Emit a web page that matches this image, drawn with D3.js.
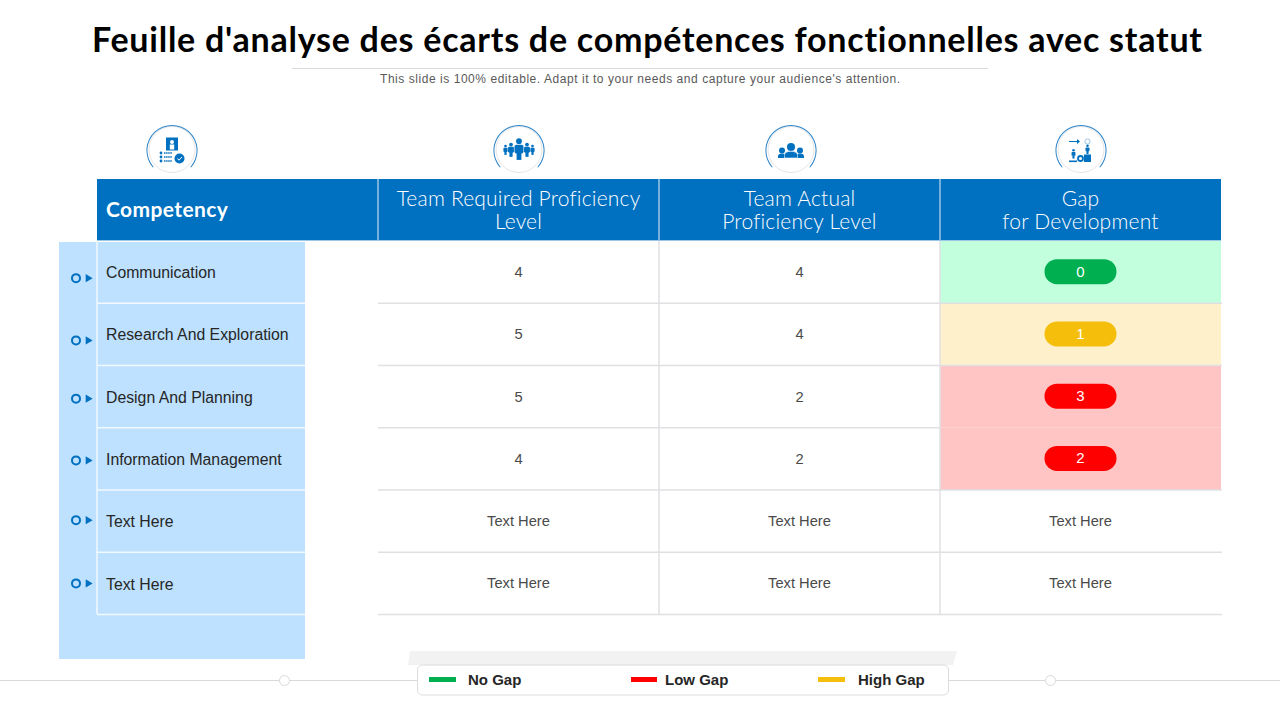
<!DOCTYPE html>
<html>
<head>
<meta charset="utf-8">
<script src="https://cdn.jsdelivr.net/npm/d3@7"></script>
<style>
  html, body { margin: 0; padding: 0; background: #fff; }
  svg { display: block; }
  text { font-family: "Liberation Sans", Arial, sans-serif; font-variant-ligatures: none; }
  .gothic { font-family: Lato, "Open Sans", sans-serif; }
</style>
</head>
<body>
<svg id="chart" width="1280" height="720"></svg>
<script>
const title = "Feuille d'analyse des écarts de compétences fonctionnelles avec statut"
const subtitle = "This slide is 100% editable. Adapt it to your needs and capture your audience's attention."

const columns = ['required', 'actual', 'gap']
const columnHeaders = [
    ['Team Required Proficiency', 'Level'],
    ['Team Actual', 'Proficiency Level'],
    ['Gap', 'for Development'],
]
const competencies = ['Communication', 'Research And Exploration', 'Design And Planning', 'Information  Management', 'Text  Here', 'Text  Here']
const required = [4, 5, 5, 4, 'Text Here', 'Text Here']
const actual = [4, 4, 2, 2, 'Text Here', 'Text Here']
const gap = [0, 1, 3, 2, 'Text Here', 'Text Here']

const legendLabels = ['No Gap', 'Low Gap', 'High Gap']
const legendColors = ['#00b050', '#ff0000', '#f5be0b']

const blue = '#0070c0'
const lightBlue = '#bde1fe'
const lineGrey = '#e0e0e3'

const svg = d3.select('#chart')

const xScale = d3.scaleBand().domain(columns).range([378, 1221])
const yScale = d3.scaleBand().domain(d3.range(competencies.length)).range([241, 614.5])

const gapFill = v => v === 0 ? '#c1ffdd' : v === 1 ? '#fdf0cb' : '#ffc5c5'
const gapPill = v => v === 0 ? legendColors[0] : v === 1 ? legendColors[2] : legendColors[1]
const isNum = v => typeof v === 'number'

// title
svg.append('text').attr('class', 'gothic')
    .attr('x', 647).attr('y', 52)
    .attr('text-anchor', 'middle')
    .attr('font-size', 34).attr('font-weight', 700)
    .attr('textLength', 1110).attr('lengthAdjust', 'spacing')
    .text(title)
svg.append('line').attr('x1', 292).attr('x2', 988).attr('y1', 68.5).attr('y2', 68.5).attr('stroke', '#d9d9d9')
svg.append('text')
    .attr('x', 640).attr('y', 83)
    .attr('text-anchor', 'middle')
    .attr('font-size', 12).attr('fill', '#595959')
    .attr('textLength', 520)
    .text(subtitle)

// left light blue panel and header
svg.append('rect').attr('x', 59).attr('y', 242).attr('width', 246).attr('height', 417).attr('fill', lightBlue)
svg.append('rect').attr('x', 97).attr('y', 179).attr('width', 1124).attr('height', 62).attr('fill', blue)
svg.append('line').attr('x1', 97).attr('x2', 1221).attr('y1', 240.5).attr('y2', 240.5).attr('stroke', '#9cc6e6')

svg.append('text').attr('class', 'gothic')
    .attr('x', 106).attr('y', 216.5)
    .attr('font-size', 21).attr('font-weight', 700).attr('fill', '#fff')
    .attr('letter-spacing', 0.4)
    .text('Competency')

columnHeaders.forEach((lines, i) => {
    const cx = xScale(columns[i]) + xScale.bandwidth() / 2
    lines.forEach((t, j) => {
        svg.append('text').attr('class', 'gothic')
            .attr('x', cx).attr('y', 205.5 + j * 23)
            .attr('text-anchor', 'middle')
            .attr('font-size', 21).attr('font-weight', 300).attr('fill', '#fff')
            .attr('letter-spacing', 0.2)
            .text(t)
    })
})

// table rows
const values = { required, actual, gap }
const rows = svg.append('g')
const labelShift = [-1, -1, 0, 0, -1, 0]
const bulletShift = [6, 6, 2, 1.5, -1, 0]

// gap colour cells first so grid lines stay on top
rows.selectAll('.gapcell')
    .data(gap.map((v, i) => ({ v, i })).filter(d => isNum(d.v)))
    .join('rect')
    .attr('x', xScale('gap')).attr('y', d => yScale(d.i))
    .attr('width', xScale.bandwidth()).attr('height', yScale.bandwidth())
    .attr('fill', d => gapFill(d.v))

competencies.forEach((name, i) => {
    const top = yScale(i), h = yScale.bandwidth(), mid = top + h / 2

    // competency cell
    rows.append('line').attr('x1', 97).attr('x2', 305).attr('y1', top + h).attr('y2', top + h).attr('stroke', '#f2f9ff').attr('stroke-width', 1.5)
    rows.append('text')
        .attr('x', 106).attr('y', mid + 5.5 + labelShift[i] + 1)
        .attr('font-size', 15.8).attr('fill', '#262626')
        .text(name)

    // bullet
    const by = mid + bulletShift[i]
    rows.append('circle').attr('cx', 76).attr('cy', by).attr('r', 4).attr('fill', 'none').attr('stroke', blue).attr('stroke-width', 2)
    rows.append('path')
        .attr('d', d3.symbol(d3.symbolTriangle, 28))
        .attr('transform', `translate(88,${by}) rotate(90)`)
        .attr('fill', blue)

    // grid line, none between the two red cells
    rows.append('line').attr('x1', 378).attr('x2', i === 2 ? xScale('gap') : 1222).attr('y1', top + h).attr('y2', top + h).attr('stroke', lineGrey).attr('stroke-width', 1.5)

    columns.forEach(c => {
        const v = values[c][i]
        const cx = xScale(c) + xScale.bandwidth() / 2
        if (c === 'gap' && isNum(v)) {
            rows.append('rect').attr('x', cx - 36).attr('y', mid - 13).attr('width', 72).attr('height', 25).attr('rx', 12.5).attr('fill', gapPill(v))
            rows.append('text').attr('x', cx).attr('y', mid + 4.5).attr('text-anchor', 'middle').attr('font-size', 15).attr('fill', '#fff').text(v)
        } else {
            rows.append('text').attr('x', cx).attr('y', mid + 5).attr('text-anchor', 'middle').attr('font-size', 14.7).attr('fill', '#4a4a4a').text(v)
        }
    })
})

// white rule on the left of the competency cells, column rules
svg.append('line').attr('x1', 97).attr('x2', 97).attr('y1', 242).attr('y2', 614).attr('stroke', '#f2f9ff').attr('stroke-width', 1.5)
;['actual', 'gap'].forEach(c => {
    const x = xScale(c)
    svg.append('line').attr('x1', x).attr('x2', x).attr('y1', 179).attr('y2', 241).attr('stroke', '#9cc6e6').attr('stroke-width', 1.5)
    svg.append('line').attr('x1', x).attr('x2', x).attr('y1', 241).attr('y2', 614).attr('stroke', lineGrey).attr('stroke-width', 1.5)
})
svg.append('line').attr('x1', 378).attr('x2', 378).attr('y1', 179).attr('y2', 241).attr('stroke', '#9cc6e6').attr('stroke-width', 1.5)

// icons
const ringArc = d3.arc().innerRadius(24.6).outerRadius(25.6).startAngle(-2.3).endAngle(2.3)
function badge(cx) {
    const g = svg.append('g').attr('transform', `translate(${cx},150.5)`)
    g.append('circle').attr('cy', -1).attr('r', 23).attr('fill', '#fff').attr('stroke', '#e6e6e6').attr('stroke-width', 1)
    g.append('path').attr('d', ringArc()).attr('fill', '#2f86c9')
    return g
}
function person(g, x, y, s) {
    g.append('circle').attr('cx', x).attr('cy', y - 5.2 * s).attr('r', 1.8 * s).attr('fill', blue)
    g.append('rect').attr('x', x - 2.8 * s).attr('y', y - 3 * s).attr('width', 5.6 * s).attr('height', 5.5 * s).attr('rx', 1.2 * s).attr('fill', blue)
    g.append('rect').attr('x', x - 1.5 * s).attr('y', y + 2 * s).attr('width', 3 * s).attr('height', 4.5 * s).attr('fill', blue)
}

const icon1 = badge(172)
icon1.append('rect').attr('x', -6).attr('y', -13).attr('width', 12).attr('height', 13).attr('fill', blue)
icon1.append('circle').attr('cy', -8.5).attr('r', 2).attr('fill', '#fff')
icon1.append('rect').attr('x', -2.2).attr('y', -6).attr('width', 4.4).attr('height', 5).attr('fill', '#fff')
d3.range(3).forEach(i => {
    icon1.append('circle').attr('cx', -11).attr('cy', 2.5 + i * 4).attr('r', 1.4).attr('fill', blue)
    icon1.append('line').attr('x1', -8).attr('x2', 0).attr('y1', 2.5 + i * 4).attr('y2', 2.5 + i * 4).attr('stroke', blue).attr('stroke-width', 1.4).attr('stroke-dasharray', '1.5 .6')
})
icon1.append('circle').attr('cx', 7.5).attr('cy', 8).attr('r', 5).attr('fill', blue)
icon1.append('path').attr('d', 'M5.5,8 L7,9.7 L10,6.5').attr('fill', 'none').attr('stroke', '#fff').attr('stroke-width', 1)

const icon2 = badge(519)
person(icon2, 0, -1, 1.6)
person(icon2, -8, -0.5, 1.05); person(icon2, 8, -0.5, 1.05)
person(icon2, -13.5, -0.5, .75); person(icon2, 13.5, -0.5, .75)

const icon3 = badge(791)
icon3.append('circle').attr('cx', -9).attr('cy', 0).attr('r', 3).attr('fill', blue)
icon3.append('circle').attr('cx', 9).attr('cy', 0).attr('r', 3).attr('fill', blue)
icon3.append('path').attr('d', 'M-13,7.5 V6 Q-13,3 -9,3 Q-5,3 -5,6 V7.5 Z M5,7.5 V6 Q5,3 9,3 Q13,3 13,6 V7.5 Z').attr('fill', blue)
icon3.append('circle').attr('cx', 0).attr('cy', -3.5).attr('r', 4).attr('fill', blue)
icon3.append('path').attr('d', 'M-6.5,7.5 V5 Q-6.5,0.8 0,0.8 Q6.5,0.8 6.5,5 V7.5 Z').attr('fill', blue).attr('stroke', '#fff').attr('stroke-width', .6)

const icon4 = badge(1081)
icon4.append('path').attr('d', 'M-12,-9.5 H-4 V-11.5 L-1,-9 L-4,-6.5 V-8.5 H-12 Z').attr('fill', blue)
person(icon4, -7.5, 3.5, .7)
icon4.append('rect').attr('x', -12).attr('y', 10).attr('width', 8).attr('height', 1.6).attr('fill', blue)
icon4.append('circle').attr('cx', -0.5).attr('cy', 8).attr('r', 2.5).attr('fill', 'none').attr('stroke', blue).attr('stroke-width', 1.8)
icon4.append('rect').attr('x', 3).attr('y', 4).attr('width', 7).attr('height', 7.5).attr('fill', blue)
person(icon4, 6.5, -1, .7)
icon4.append('circle').attr('cx', 6.5).attr('cy', -9).attr('r', 2.6).attr('fill', 'none').attr('stroke', '#7fb5dd').attr('stroke-width', .8)

// bottom rule with legend
svg.append('line').attr('x1', 0).attr('x2', 1280).attr('y1', 680.5).attr('y2', 680.5).attr('stroke', '#d9d9d9')
;[284.5, 1050.5].forEach(x => {
    svg.append('circle').attr('cx', x).attr('cy', 680.5).attr('r', 5).attr('fill', '#fff').attr('stroke', '#d9d9d9')
})
svg.append('path').attr('d', 'M410,651 H957 L953,665 H408 Z').attr('fill', '#f2f2f2')
svg.append('rect').attr('x', 417.5).attr('y', 665).attr('width', 531).attr('height', 30).attr('rx', 5).attr('fill', '#fff').attr('stroke', '#dcdcdc')

const swatchX = [429, 631, 818]
const legendText = [468, 665, 858]
legendLabels.forEach((name, i) => {
    svg.append('rect').attr('x', swatchX[i]).attr('y', 677).attr('width', i === 1 ? 26 : 27).attr('height', 5).attr('fill', legendColors[i])
    svg.append('text').attr('x', legendText[i]).attr('y', 684.5)
        .attr('font-size', 15).attr('font-weight', 700).attr('fill', '#262626')
        .text(name)
})
</script>
</body>
</html>
